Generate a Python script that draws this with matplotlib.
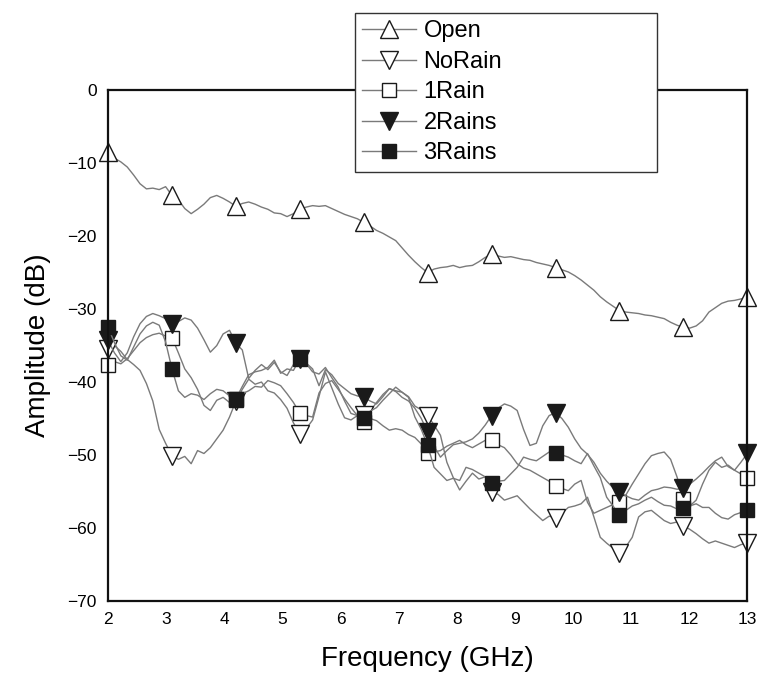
import matplotlib
matplotlib.use('Agg')
import matplotlib.pyplot as plt
import numpy as np

plt.rcParams['font.family'] = ['Liberation Sans', 'DejaVu Sans']

# frequency grid, GHz (step 0.11)
freq = np.round(np.arange(101) * 0.11 + 2.0, 2)

open_db = [
    -8.5, -9.3, -9.8, -10.5, -11.6, -12.8, -13.5, -13.4, -13.6, -13.2,
    -14.4, -15.0, -16.2, -16.9, -16.3, -15.6, -14.7, -14.4, -14.8, -15.3,
    -15.9, -15.5, -15.3, -15.6, -16.0, -16.3, -16.8, -16.9, -17.3, -16.9,
    -16.3, -16.0, -15.8, -15.9, -15.8, -16.2, -16.6, -17.0, -17.3, -17.6,
    -18.1, -18.6, -19.2, -19.6, -20.1, -20.6, -21.6, -22.6, -23.5, -24.3,
    -25.0, -24.5, -24.3, -24.2, -24.0, -24.3, -24.1, -24.0, -23.5, -22.9,
    -22.5, -22.7, -22.9, -22.8, -23.0, -23.2, -23.3, -23.6, -23.8, -24.0,
    -24.3, -24.6, -24.9, -25.4, -26.0, -26.7, -27.4, -28.3, -29.0, -29.6,
    -30.2, -30.4, -30.5, -30.6, -30.8, -30.9, -31.1, -31.3, -31.8, -32.2,
    -32.5, -32.6, -32.3, -31.6, -30.4, -29.8, -29.2, -28.9, -28.8, -28.6,
    -28.4]

norain_db = [
    -35.5, -35.0, -35.8, -36.9, -37.6, -38.4, -40.2, -42.6, -46.5, -48.4,
    -50.1, -50.6, -50.2, -51.2, -49.4, -49.8, -49.0, -47.8, -46.6, -44.8,
    -42.6, -41.0, -39.6, -40.3, -40.0, -41.2, -41.5, -42.4, -43.6, -45.6,
    -47.1, -46.4, -45.2, -42.0, -38.6, -40.8, -43.0, -44.9, -45.2, -44.6,
    -44.5, -44.0, -42.8, -41.7, -40.9, -41.2, -41.4, -42.0, -43.3, -43.8,
    -44.6, -45.9, -47.3, -51.0, -53.1, -54.8, -53.6, -52.5, -53.3, -53.0,
    -55.1, -55.4, -56.2, -55.9, -55.6, -56.5, -57.4, -58.2, -59.0, -58.4,
    -58.6, -58.0, -57.2, -57.0, -56.7, -55.8, -58.5, -61.3, -62.1, -62.8,
    -63.4, -62.6, -61.3, -58.5, -57.8, -57.6, -58.3, -59.0, -59.4, -59.2,
    -59.7, -60.2, -60.8, -61.5, -62.1, -61.8, -62.1, -62.4, -62.7, -62.3,
    -62.1]

rain1_db = [
    -37.7, -37.2, -37.5, -36.8, -35.7, -34.6, -33.9, -33.5, -33.3, -33.7,
    -33.9, -36.0, -38.2, -39.4, -41.0, -43.2, -43.9, -42.5, -42.1, -42.8,
    -42.5, -41.6, -41.2, -40.6, -40.7, -39.8, -40.1, -40.5, -41.6, -42.8,
    -44.3, -44.6, -44.8, -41.5, -40.2, -39.8, -41.0, -42.3, -43.5, -44.6,
    -45.5, -45.0, -45.3, -46.0, -46.6, -46.4, -46.6, -47.2, -47.6, -48.5,
    -49.8, -49.6, -49.4, -48.8, -48.4, -48.0, -48.6, -49.0, -48.5, -48.0,
    -48.0, -48.6, -49.0, -50.0, -51.2, -51.8, -52.1, -52.6, -53.1, -53.6,
    -54.2, -54.6, -54.9, -54.0, -53.5, -56.5, -58.0, -57.6, -57.2, -56.8,
    -56.5, -55.5, -54.0, -52.6, -51.2, -50.1, -49.8, -49.6, -50.6, -53.0,
    -56.0, -57.0, -56.2, -54.0, -52.1, -51.0, -51.7, -51.4, -52.1, -52.6,
    -53.1]

rain2_db = [
    -34.3, -36.0, -37.2, -36.0, -33.8, -32.0, -31.0, -30.6, -30.9, -31.3,
    -32.0, -31.7, -31.2, -31.5, -32.6, -34.2, -35.9, -35.0, -33.4, -32.9,
    -34.7, -35.6, -39.5, -38.4, -37.6, -38.3, -37.3, -38.6, -39.1, -37.6,
    -36.8, -37.4, -38.2, -40.5, -38.3, -39.0, -40.2, -40.9, -41.6, -41.9,
    -42.1, -42.6, -43.0, -42.0, -40.9, -41.3, -42.1, -42.6, -43.6, -45.0,
    -46.9, -48.8, -50.3, -49.4, -48.6, -48.4, -48.2, -47.8, -47.0, -45.9,
    -44.6, -43.6, -43.0, -43.3, -43.9, -46.5, -48.7, -48.4, -46.0, -44.6,
    -44.2, -45.0, -46.2, -47.8, -49.1, -49.9, -51.0, -52.5, -53.6, -54.5,
    -55.1, -55.6, -56.0, -56.2, -55.5, -54.9, -54.7, -54.4, -54.5, -54.7,
    -54.6, -54.0, -53.3, -52.5, -51.6, -50.8, -50.3, -51.6, -52.1, -51.0,
    -49.8]

rain3_db = [
    -32.5, -34.6, -36.4, -37.0, -35.2, -33.4, -32.3, -31.8, -32.2, -34.5,
    -38.2, -41.2, -42.1, -41.6, -41.8, -42.4, -41.6, -41.0, -41.2, -41.9,
    -42.3, -40.6, -39.0, -38.6, -38.4, -38.0, -37.0, -38.8, -38.2, -38.4,
    -36.8, -37.5, -38.6, -38.9, -38.0, -39.4, -40.7, -42.6, -44.3, -44.6,
    -44.9, -44.0, -43.5, -42.5, -41.6, -40.7, -41.4, -42.1, -44.8, -46.5,
    -48.7, -51.7, -52.6, -53.5, -53.2, -53.5, -51.7, -52.0, -52.5, -53.0,
    -53.8, -53.6, -53.5, -52.6, -51.7, -50.3, -50.6, -50.8, -50.2, -49.6,
    -49.8, -50.0, -50.3, -50.8, -51.2, -49.8, -51.5, -53.1, -55.8, -57.0,
    -58.3, -57.6, -57.0, -56.7, -56.2, -55.8, -56.4, -56.9, -57.0, -57.4,
    -57.3, -57.0, -56.7, -57.2, -57.2, -58.0, -58.6, -58.8, -58.2, -57.9,
    -57.6]

labels = ['Open', 'NoRain', '1Rain', '2Rains', '3Rains']
series = [open_db, norain_db, rain1_db, rain2_db, rain3_db]
markers = ['^', 'v', 's', 'v', 's']
faces = ['white', 'white', 'white', '#1a1a1a', '#1a1a1a']
sizes = [13, 13, 10, 13, 10]

fig = plt.figure(figsize=(7.61, 6.75), dpi=100)
ax = fig.add_axes([0.142, 0.110, 0.840, 0.756])

for lab, vals, m, fc, ms in zip(labels, series, markers, faces, sizes):
    ax.plot(freq, vals, color='#7a7a7a', lw=1.0, marker=m, markevery=10,
            markersize=ms, markerfacecolor=fc, markeredgecolor='#1a1a1a',
            markeredgewidth=1.0, label=lab, clip_on=False)

ax.set_xlim(2, 13)
ax.set_ylim(-70, 0)
ax.set_xticks(range(2, 14))
ax.set_yticks(range(-70, 1, 10))
ax.tick_params(length=0, labelsize=12.5, pad=8)
for sp in ax.spines.values():
    sp.set_linewidth(1.6)
    sp.set_color('#111111')

ax.set_xlabel('Frequency (GHz)', fontsize=20, labelpad=14)
ax.set_ylabel('Amplitude (dB)', fontsize=20, labelpad=12)

leg = ax.legend(loc='upper left', bbox_to_anchor=(0.466, 0.750, 0.397, 0.231),
                bbox_transform=fig.transFigure, mode='expand', borderaxespad=0,
                fontsize=17, handlelength=2.3, handletextpad=0.3,
                labelspacing=0.36, fancybox=False, framealpha=1,
                edgecolor='#333333', borderpad=0.32)
leg.get_frame().set_linewidth(1.0)
leg.set_zorder(10)

fig.savefig('out.png', dpi=100)
